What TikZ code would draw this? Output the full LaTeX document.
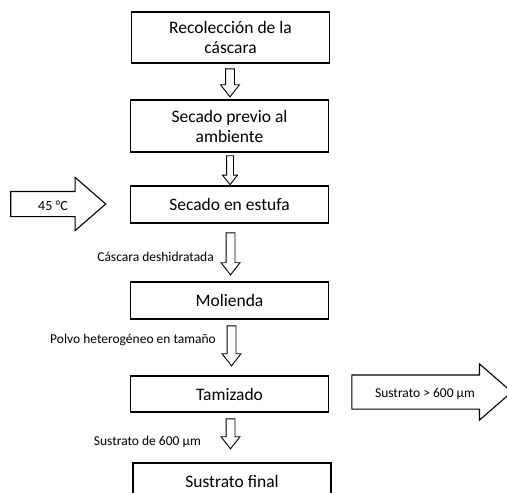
\documentclass[tikz,border=0pt]{standalone}
\usepackage{fontspec}
\setmainfont{Carlito}
\usepackage{tikz}
\usetikzlibrary{shapes.arrows, positioning}

\begin{document}
\begin{tikzpicture}[x=1pt, y=-1pt,
  box/.style={rectangle, draw=black, line width=1.2pt, minimum width=198pt,
    align=center, font=\fontsize{17.5}{20}\selectfont},
  downarrow/.style={single arrow, draw=black, fill=white, line width=0.9pt,
    shape border rotate=270, inner sep=4pt, minimum width=18pt,
    single arrow head extend=5pt, single arrow tip angle=76},
  sidearrow/.style={single arrow, draw=black, fill=white, line width=1.1pt,
    single arrow tip angle=82},
  lbl/.style={font=\fontsize{13.5}{15}\selectfont, inner sep=0pt}
]
\useasboundingbox (0,0) rectangle (507,493);

% Boxes
\node[box, minimum height=51pt] (b1) at (230.5,37.5) {Recolección de la\\cáscara};
\node[box, minimum height=52pt] (b2) at (229.5,126) {Secado previo al\\ambiente};
\node[box, minimum height=37pt] (b3) at (229.5,204.5) {Secado en estufa};
\node[box, minimum height=37pt] (b4) at (229.5,300.5) {Molienda};
\node[box, minimum height=36pt] (b5) at (229.5,394) {Tamizado};
\node[box, minimum height=37pt] (b6) at (232,481.5) {Sustrato final};

% Down arrows
\node[downarrow, minimum height=28pt, minimum width=16pt] (a1) at (230,80) {};
\node[downarrow, minimum height=29pt, minimum width=14pt, inner sep=3pt,
  single arrow head extend=4pt] (a2) at (230,168) {};
\node[downarrow, minimum height=42pt] (a3) at (230.5,251) {};
\node[downarrow, minimum height=40pt] (a4) at (231.5,343) {};
\node[downarrow, minimum height=30pt] (a5) at (230.5,431) {};

% Labels
\node[lbl, anchor=east] (l3) at (214,257) {Cáscara deshidratada};
\node[lbl, anchor=east] (l4) at (216,340) {Polvo heterogéneo en tamaño};
\node[lbl, anchor=east] (l5) at (201,442) {Sustrato de 600 µm};

% Side arrows
\node[sidearrow, inner sep=12pt, minimum height=95pt, minimum width=52pt,
  single arrow head extend=14pt] (heat) at (51,204) {};
\node[lbl, font=\fontsize{14}{16}\selectfont] (t45) at (53,206) {45 °C};
\node[sidearrow, inner sep=16.5pt, minimum height=160pt, minimum width=55pt,
  single arrow head extend=11pt] (out) at (422,392) {};
\node[lbl] (tout) at (425,394) {Sustrato > 600 µm};
\end{tikzpicture}
\end{document}
